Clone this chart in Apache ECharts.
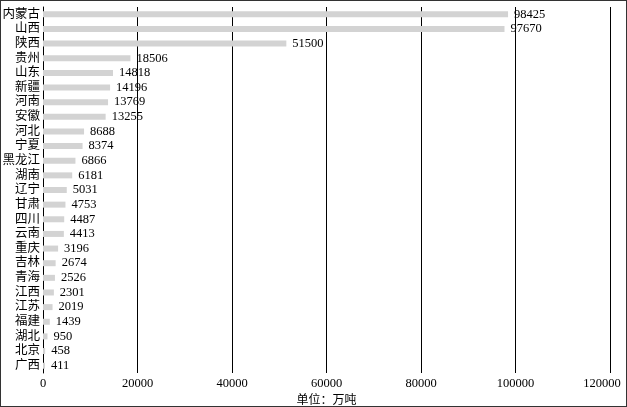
<!DOCTYPE html>
<html>
<head>
<meta charset="utf-8">
<script src="https://cdn.jsdelivr.net/npm/echarts@6/dist/echarts.min.js"></script>
<style>
  html, body { margin: 0; padding: 0; background: #fff; }
  #main { width: 625px; height: 405px; border: 1px solid #333; }
</style>
</head>
<body>
<div id="main"></div>
<script>
// 省份（从上到下）
var provinces = ['内蒙古', '山西', '陕西', '贵州', '山东', '新疆', '河南', '安徽', '河北', '宁夏',
  '黑龙江', '湖南', '辽宁', '甘肃', '四川', '云南', '重庆', '吉林', '青海', '江西',
  '江苏', '福建', '湖北', '北京', '广西'];
var values = [98425, 97670, 51500, 18506, 14818, 14196, 13769, 13255, 8688, 8374,
  6866, 6181, 5031, 4753, 4487, 4413, 3196, 2674, 2526, 2301,
  2019, 1439, 950, 458, 411];
var axisMax = 120000;

var font = '"Liberation Serif", "Noto Sans CJK SC", serif';
var chart = echarts.init(document.getElementById('main'));

var option = {
  animation: false,
  grid: { left: 42, right: 16, top: 6, bottom: 33, outerBoundsMode: 'none' },
  xAxis: {
    type: 'value',
    min: 0,
    max: axisMax,
    interval: 20000,
    name: '单位：万吨',
    nameLocation: 'middle',
    nameGap: 21,
    nameTextStyle: { color: '#000', fontFamily: font, fontSize: 12 },
    axisLine: { show: false },
    axisTick: { show: false },
    axisLabel: {
      color: '#000', fontFamily: font, fontSize: 12.5, margin: 4,
      formatter: function (v) {
        return v === axisMax ? '{last|' + v + '}' : String(v);
      },
      rich: {
        last: { fontFamily: font, fontSize: 12.5, color: '#000', padding: [0, 16, 0, 0] }
      }
    },
    splitLine: { lineStyle: { color: '#000', width: 1 } }
  },
  yAxis: {
    type: 'category',
    data: provinces,
    inverse: true,
    axisLine: { show: true, lineStyle: { color: '#000' } },
    axisTick: { show: false },
    axisLabel: { color: '#000', fontFamily: font, fontSize: 12.5, margin: 3, interval: 0 }
  },
  series: [{
    type: 'bar',
    data: values,
    barWidth: 6,
    itemStyle: { color: '#d3d3d3' },
    label: {
      show: true,
      position: 'right',
      distance: 6,
      color: '#000',
      fontFamily: font,
      fontSize: 12.5,
      formatter: function (p) { return String(p.value); }
    }
  }]
};

chart.setOption(option);
</script>
</body>
</html>
